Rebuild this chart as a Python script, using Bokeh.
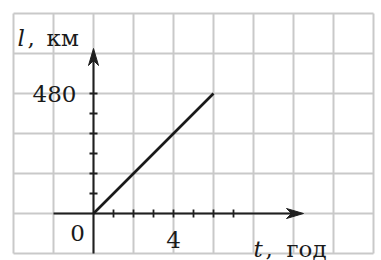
from bokeh.plotting import figure
from bokeh.models import Range1d
from bokeh.core.properties import value
from bokeh.embed import file_html
from bokeh.resources import INLINE

# data
t_hours = [0, 6]
l_km = [0, 480]
x_minor_ticks = [1, 2, 3, 4, 5, 6, 7]
y_minor_ticks = [80, 160, 240, 320, 400, 480]
x_tick_labels = ["4"]
x_tick_values = [4]
y_tick_labels = ["480"]
y_tick_values = [480]
origin_label = "0"
x_var, x_unit = "t", "год"
y_var, y_unit = "l", "км"

W, H = 381, 260
X0, X1 = -4.65, 14.4
Y0, Y1 = -188, 852
PX_X = (X1 - X0) / W   # data per px horizontally
PX_Y = (Y1 - Y0) / H   # data per px vertically

def dx(px):
    return px * PX_X

def dy(px):
    return px * PX_Y

p = figure(width=W, height=H, x_range=Range1d(X0, X1), y_range=Range1d(Y0, Y1),
           output_backend="svg", toolbar_location=None, min_border=0,
           x_axis_location=None, y_axis_location=None)
p.grid.visible = False
p.outline_line_color = None
p.background_fill_color = "white"
p.border_fill_color = "white"

# background grid (every 2 h, every 160 km)
gx = list(range(-4, 15, 2))
gy = list(range(-160, 801, 160))
grid_col = "#c9c9c9"
p.segment(x0=gx, y0=[gy[0]] * len(gx), x1=gx, y1=[gy[-1]] * len(gx),
          line_color=grid_col, line_width=2)
p.segment(x0=[gx[0]] * len(gy), y0=gy, x1=[gx[-1]] * len(gy), y1=gy,
          line_color=grid_col, line_width=2)

ax_col = "#1f1f1f"
x_end = 10.5
y_end = 660
# axes lines
p.segment(x0=[-2, 0], y0=[0, -160], x1=[x_end - dx(10), 0], y1=[0, y_end - dy(10)],
          line_color=ax_col, line_width=2)
# arrow heads (stealth)
p.patch([x_end, x_end - dx(17), x_end - dx(12), x_end - dx(17)],
        [0, dy(5), 0, -dy(5)], color=ax_col)
p.patch([0, -dx(5), 0, dx(5)],
        [y_end, y_end - dy(17), y_end - dy(12), y_end - dy(17)], color=ax_col)

# ticks
p.segment(x0=x_minor_ticks, y0=[-dy(4)] * len(x_minor_ticks),
          x1=x_minor_ticks, y1=[dy(4)] * len(x_minor_ticks),
          line_color=ax_col, line_width=1.8)
p.segment(x0=[-dx(4)] * len(y_minor_ticks), y0=y_minor_ticks,
          x1=[dx(4)] * len(y_minor_ticks), y1=y_minor_ticks,
          line_color=ax_col, line_width=1.8)

# graph line
p.line(t_hours, l_km, line_color="#1a1a1a", line_width=2.6)

font = value("DejaVu Serif")
fs = "23px"
tc = "#1a1a1a"
p.text(x=[-dx(17)], y=y_tick_values, text=y_tick_labels, text_font=font,
       text_font_size=fs, text_align="right", text_baseline="middle", text_color=tc)
p.text(x=x_tick_values, y=[-dy(26)], text=x_tick_labels, text_font=font,
       text_font_size=fs, text_align="center", text_baseline="middle", text_color=tc)
p.text(x=[-dx(16)], y=[-dy(19)], text=[origin_label], text_font=font,
       text_font_size=fs, text_align="center", text_baseline="middle", text_color=tc)

# axis titles: italic variable, comma, unit
def title(var, unit, x_px, comma_px, unit_px, base_px):
    yb = -dy(base_px - 213)
    p.text(x=[dx(x_px - 93)], y=[yb], text=[var], text_font=font,
           text_font_style="italic", text_font_size=fs, text_align="left",
           text_baseline="alphabetic", text_color=tc)
    p.text(x=[dx(comma_px - 93)], y=[yb], text=[","], text_font=font,
           text_font_size=fs, text_align="left", text_baseline="alphabetic", text_color=tc)
    p.text(x=[dx(unit_px - 93)], y=[yb], text=[unit], text_font=font,
           text_font_size=fs, text_align="left", text_baseline="alphabetic", text_color=tc)

title(x_var, x_unit, 253, 265, 286, 248)
title(y_var, y_unit, 17, 27, 46, 37)

open("out.html", "w").write(file_html(p, INLINE))
